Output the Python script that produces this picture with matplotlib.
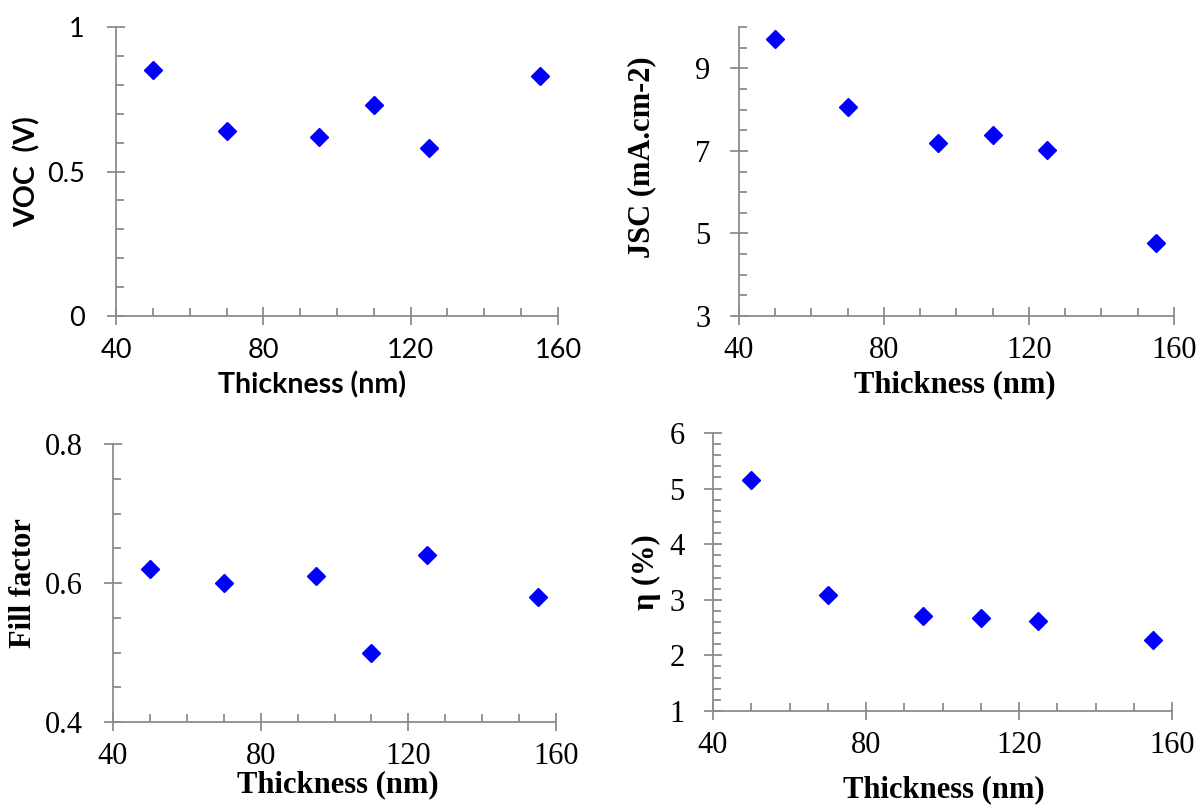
import numpy as np
import matplotlib.pyplot as plt
from matplotlib.ticker import MultipleLocator, FixedLocator

# layer thickness (nm)
thickness = [50, 70, 95, 110, 125, 155]

voc = [0.85, 0.64, 0.62, 0.73, 0.58, 0.83]
jsc = [9.72, 8.06, 7.19, 7.39, 7.02, 4.76]
fill_factor = [0.62, 0.60, 0.61, 0.50, 0.64, 0.58]
eta = [5.15, 3.09, 2.70, 2.67, 2.61, 2.27]

x_ticks = [40, 80, 120, 160]

AXCOL = "#8c8c8c"

fig = plt.figure(figsize=(12.01, 8.07), dpi=100)

# [left, bottom, width, height]
ax1 = fig.add_axes([0.0966, 0.6084, 0.3680, 0.3581])
ax2 = fig.add_axes([0.6153, 0.6084, 0.3622, 0.3581])
ax3 = fig.add_axes([0.0941, 0.1053, 0.3689, 0.3445])
ax4 = fig.add_axes([0.5937, 0.1190, 0.3822, 0.3445])


def style(ax, y, ylim, ymajor, yminor, ylabel, font, tsize, lsize,
          xpad, ypad, xlab_xy, ylab_xy):
    ax.plot(thickness, y, linestyle="none", marker="D", markersize=9,
            color="#0000ff", clip_on=False, zorder=3)
    ax.set_xlim(40, 160)
    ax.set_ylim(*ylim)
    ax.xaxis.set_major_locator(FixedLocator(x_ticks))
    ax.xaxis.set_minor_locator(MultipleLocator(10))
    ax.yaxis.set_major_locator(FixedLocator(ymajor))
    ax.yaxis.set_minor_locator(MultipleLocator(yminor))
    for s in ["top", "right"]:
        ax.spines[s].set_visible(False)
    for s in ["left", "bottom"]:
        ax.spines[s].set_color(AXCOL)
        ax.spines[s].set_linewidth(1.3)
    ax.tick_params(which="major", direction="inout", length=13, width=1.3,
                   color=AXCOL)
    ax.tick_params(which="minor", direction="in", length=5.5, width=1.3,
                   color=AXCOL)
    ax.tick_params(axis="x", which="major", pad=xpad)
    ax.tick_params(axis="y", which="major", pad=ypad)
    for t in ax.get_xticklabels() + ax.get_yticklabels():
        t.set_fontfamily(font)
        t.set_fontsize(tsize)
    ax.set_xlabel("Thickness (nm)", family=font, fontsize=lsize,
                  fontweight="bold", va="center")
    ax.set_ylabel(ylabel, family=font, fontsize=lsize, fontweight="bold",
                  va="center")
    ax.xaxis.set_label_coords(*xlab_xy)
    ax.yaxis.set_label_coords(*ylab_xy)


style(ax1, voc, (0, 1), [0, 0.5, 1], 0.1, "VOC  (V)", "Lato", 19.5, 20.5,
      9, 16, (0.443, -0.239), (-0.201, 0.498))
ax1.set_yticklabels(["0", "0.5", "1"])

style(ax2, jsc, (3, 10), [3, 5, 7, 9], 0.5, "JSC (mA.cm-2)",
      "Liberation Serif", 22, 22, 8, 14, (0.497, -0.239), (-0.223, 0.55))

style(ax3, fill_factor, (0.4, 0.8), [0.4, 0.6, 0.8], 0.05, "Fill factor",
      "Liberation Serif", 22, 22, 8, 15, (0.508, -0.227), (-0.201, 0.50))

style(ax4, eta, (1, 6), [1, 2, 3, 4, 5, 6], 0.2, "η (%)",
      "Liberation Serif", 22, 22, 8, 14, (0.503, -0.284), (-0.144, 0.50))

fig.savefig("out.png", dpi=100)
